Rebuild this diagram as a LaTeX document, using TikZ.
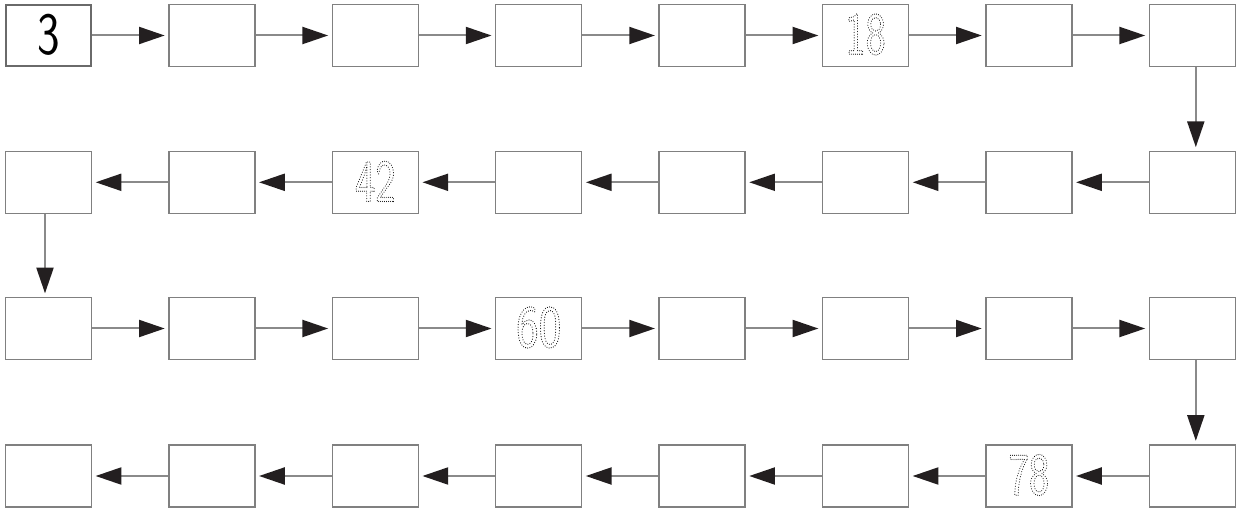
\documentclass[tikz,border=0pt]{standalone}
\usetikzlibrary{arrows.meta}
\definecolor{boxgray}{HTML}{808080}
\definecolor{linegray}{HTML}{8A8A8A}
\definecolor{firstgray}{HTML}{6A6A6A}
\definecolor{tipblack}{HTML}{231F20}
\newcommand\dotdigits[1]{\special{pdf:literal direct 1 Tr 1.25 w [0 2.7] 0 d 1 J}#1\special{pdf:literal direct 0 Tr [] 0 d 0 J}}
\tikzset{
  cell/.style={draw=boxgray, line width=1.3pt, minimum width=86pt, minimum height=62pt, inner sep=0pt, fill=white},
  firstcell/.style={cell, draw=firstgray, line width=2.6pt, minimum width=84.7pt, minimum height=60.7pt},
  numtxt/.style={font=\sffamily\fontsize{60}{60}\selectfont, text=black},
  arr/.style={draw=linegray, line width=2pt, shorten >=3.5pt,
    -{Triangle[length=25.7pt,width=17pt,color=tipblack]}},
}
\begin{document}
\begin{tikzpicture}[x=1pt,y=-1pt]
\useasboundingbox (0,0) rectangle (1239,510);
% row centres
\def\ya{35.5}\def\yb{182.3}\def\yc{328.5}\def\yd{476}
% row 1 (left to right)
\foreach \i in {1,...,8}{
  \pgfmathsetmacro\xx{48.5+163.4*(\i-1)}
  \node[cell] (b\i) at (\xx,\ya) {};
}
% row 2 (right to left)
\foreach \i in {9,...,16}{
  \pgfmathsetmacro\xx{48.5+163.4*(16-\i)}
  \node[cell] (b\i) at (\xx,\yb) {};
}
% row 3 (left to right)
\foreach \i in {17,...,24}{
  \pgfmathsetmacro\xx{48.5+163.4*(\i-17)}
  \node[cell] (b\i) at (\xx,\yc) {};
}
% row 4 (right to left)
\foreach \i in {25,...,32}{
  \pgfmathsetmacro\xx{48.5+163.4*(32-\i)}
  \node[cell] (b\i) at (\xx,\yd) {};
}
% first box, heavier frame
\node[firstcell] (first) at (b1.center) {};
% numbers
\node[numtxt] (n3) at ([yshift=1pt]b1.center) {\scalebox{0.8}[1]{3}};
\node[numtxt] (n18) at ([yshift=1pt]b6.center) {\scalebox{0.72}[1]{\dotdigits{18}}};
\node[numtxt] (n42) at ([yshift=1pt]b14.center) {\scalebox{0.72}[1]{\dotdigits{42}}};
\node[numtxt] (n60) at ([yshift=1pt]b20.center) {\scalebox{0.8}[1]{\dotdigits{60}}};
\node[numtxt] (n78) at ([yshift=1pt]b26.center) {\scalebox{0.72}[1]{\dotdigits{78}}};
% horizontal connectors
\foreach \a/\b in {1/2,2/3,3/4,4/5,5/6,6/7,7/8}{
  \draw[arr] (b\a.east) -- (b\b.west);
}
\foreach \a/\b in {9/10,10/11,11/12,12/13,13/14,14/15,15/16}{
  \draw[arr] (b\a.west) -- (b\b.east);
}
\foreach \a/\b in {17/18,18/19,19/20,20/21,21/22,22/23,23/24}{
  \draw[arr] (b\a.east) -- (b\b.west);
}
\foreach \a/\b in {25/26,26/27,27/28,28/29,29/30,30/31,31/32}{
  \draw[arr] (b\a.west) -- (b\b.east);
}
% vertical connectors
\draw[arr] ([xshift=3.5pt]b8.south) -- ([xshift=3.5pt]b9.north);
\draw[arr] ([xshift=-3.5pt]b16.south) -- ([xshift=-3.5pt]b17.north);
\draw[arr] ([xshift=3.5pt]b24.south) -- ([xshift=3.5pt]b25.north);
\end{tikzpicture}
\end{document}
